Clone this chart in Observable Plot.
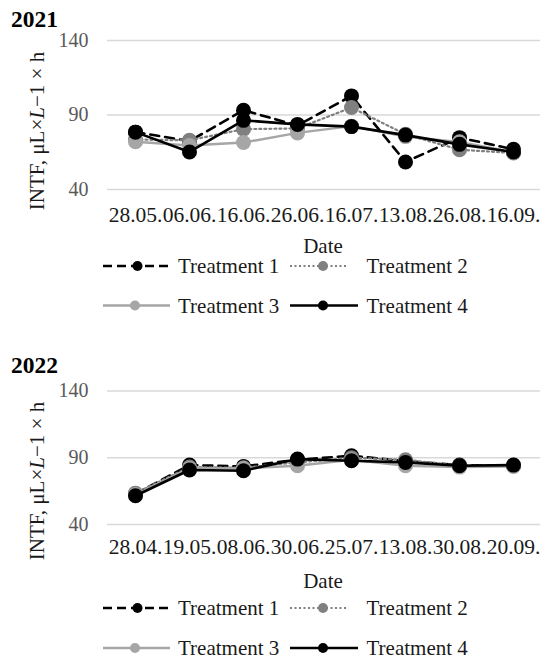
<!DOCTYPE html>
<html>
<head>
<meta charset="utf-8">
<script src="https://cdn.jsdelivr.net/npm/d3@7"></script>
<script src="https://cdn.jsdelivr.net/npm/@observablehq/plot@0.6"></script>
<style>
  html, body { margin: 0; padding: 0; background: #fff; }
  #root { position: relative; width: 541px; height: 659px; overflow: hidden; font-family: 'Liberation Serif', 'Times New Roman', serif; }
  #root svg { position: absolute; left: 0; }
</style>
</head>
<body>
<div id="root"></div>
<script>
// ---- data ----
const dates2021 = ["28.05.", "06.06.", "16.06.", "26.06.", "16.07.", "13.08.", "26.08.", "16.09."];
const t1_2021 = [78.5, 72.5, 93.2, 83.0, 102.8, 58.5, 74.8, 67.0];
const t2_2021 = [73.5, 73.0, 80.5, 81.0, 95.0, 77.0, 66.7, 64.5];
const t3_2021 = [72.0, 69.5, 71.5, 78.0, 82.5, 75.5, 72.0, 65.0];
const t4_2021 = [78.5, 65.2, 86.4, 83.7, 82.2, 76.5, 70.3, 65.2];

const dates2022 = ["28.04.", "19.05.", "08.06.", "30.06.", "25.07.", "13.08.", "30.08.", "20.09."];
const t1_2022 = [63.0, 84.5, 83.5, 88.5, 91.5, 87.5, 84.5, 84.0];
const t2_2022 = [63.5, 83.0, 82.5, 86.5, 90.0, 88.5, 84.0, 84.5];
const t3_2022 = [62.5, 82.0, 82.0, 84.0, 88.5, 84.0, 83.0, 83.5];
const t4_2022 = [61.5, 80.8, 80.3, 89.0, 87.8, 86.5, 84.0, 84.5];

const seriesNames = ["Treatment 1", "Treatment 2", "Treatment 3", "Treatment 4"];
const yTicks = [40, 90, 140];

// ---- styles ----
const styles = [
  {stroke: "#000", width: 2.6, dash: "9,6", fill: "#000"},
  {stroke: "#808080", width: 2.2, dash: "2,3", fill: "#808080"},
  {stroke: "#a6a6a6", width: 2.4, dash: null, fill: "#a6a6a6"},
  {stroke: "#000", width: 2.6, dash: null, fill: "#000"}
];

const root = document.getElementById("root");
const FONT = "'Liberation Serif', 'Times New Roman', serif";

function makeChart(dates, seriesVals, cfg) {
  const marks = [
    Plot.gridY(yTicks, {stroke: "#d9d9d9", strokeOpacity: 1, strokeWidth: 1.3}),
    Plot.axisY(yTicks, {tickSize: 0, tickPadding: 19, fontSize: 20, fill: "#595959", label: null}),
    Plot.axisX({tickSize: 0, tickPadding: cfg.xPad, fontSize: 21.5, fill: "#1a1a1a", label: null})
  ];
  seriesVals.forEach((vals, i) => {
    const data = dates.map((d, j) => ({date: d, value: vals[j]}));
    const s = styles[i];
    marks.push(Plot.line(data, {x: "date", y: "value", stroke: s.stroke, strokeWidth: s.width,
      strokeDasharray: s.dash || undefined, strokeLinejoin: "round"}));
    marks.push(Plot.dot(data, {x: "date", y: "value", r: 7.5, fill: s.fill, stroke: "none"}));
  });
  const svg = Plot.plot({
    width: 541,
    height: cfg.height,
    marginLeft: 107,
    marginRight: 1,
    marginTop: cfg.mTop,
    marginBottom: cfg.mBottom,
    style: {fontFamily: FONT, background: "transparent", overflow: "visible"},
    x: {type: "point", domain: dates, padding: 0.5, axis: null},
    y: {domain: [40, 140], axis: null},
    marks
  });
  svg.style.top = cfg.top + "px";
  root.appendChild(svg);
}

makeChart(dates2021, [t1_2021, t2_2021, t3_2021, t4_2021], {top: 0, height: 230, mTop: 40, mBottom: 41, xPad: 17});
makeChart(dates2022, [t1_2022, t2_2022, t3_2022, t4_2022], {top: 340, height: 220, mTop: 50.5, mBottom: 36, xPad: 14.5});

// ---- titles, axis titles and legends ----
const ov = d3.select(root).append("svg")
  .attr("width", 541).attr("height", 659)
  .style("top", "0px")
  .style("font-family", FONT);

function decorate(cfg) {
  ov.append("text").attr("x", 11).attr("y", cfg.titleY)
    .attr("font-size", 23.5).attr("font-weight", "bold").attr("fill", "#000").text(cfg.title);

  const yl = ov.append("text")
    .attr("transform", `translate(44,${cfg.ylabelY}) rotate(-90)`)
    .attr("text-anchor", "middle").attr("font-size", 21).attr("fill", "#1a1a1a");
  yl.append("tspan").text("INTF, μL×");
  yl.append("tspan").attr("font-style", "italic").text("L");
  yl.append("tspan").text("−1 × h");

  ov.append("text").attr("x", 323).attr("y", cfg.dateY).attr("text-anchor", "middle")
    .attr("font-size", 21).attr("fill", "#1a1a1a").text("Date");

  const items = [
    {sx1: 103, sx2: 168, mx: 137.5, tx: 178, cy: cfg.row1},
    {sx1: 290, sx2: 347, mx: 323, tx: 366.5, cy: cfg.row1},
    {sx1: 103, sx2: 170, mx: 135, tx: 178, cy: cfg.row2},
    {sx1: 290, sx2: 358, mx: 323, tx: 366.5, cy: cfg.row2}
  ];
  items.forEach((it, i) => {
    const s = styles[i];
    const ln = ov.append("line").attr("x1", it.sx1).attr("x2", it.sx2)
      .attr("y1", it.cy).attr("y2", it.cy)
      .attr("stroke", s.stroke).attr("stroke-width", i === 1 ? 1.8 : 2.6);
    if (s.dash) ln.attr("stroke-dasharray", i === 0 ? "9,5" : "2,2.5");
    ov.append("circle").attr("cx", it.mx).attr("cy", it.cy).attr("r", 5).attr("fill", s.fill);
    ov.append("text").attr("x", it.tx).attr("y", it.cy + 7).attr("font-size", 21)
      .attr("fill", "#1a1a1a").text(seriesNames[i]);
  });
}

decorate({title: "2021", titleY: 27, ylabelY: 131, dateY: 253, row1: 266, row2: 305.5});
decorate({title: "2022", titleY: 373, ylabelY: 481, dateY: 588, row1: 608, row2: 648});
</script>
</body>
</html>
